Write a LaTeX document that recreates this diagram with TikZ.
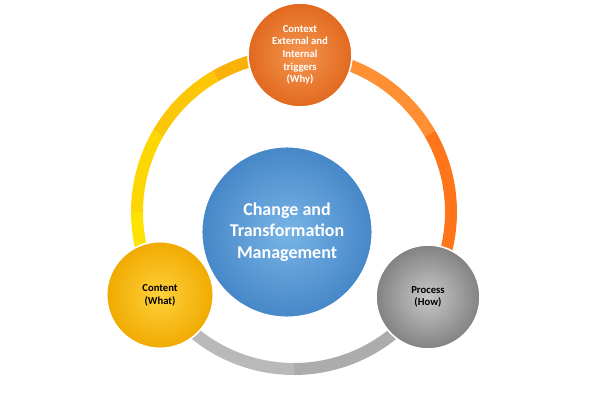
\documentclass[tikz,border=0pt]{standalone}
\usepackage{fontspec}
\usetikzlibrary{calc}
\setmainfont{Carlito}
\begin{document}
\begin{tikzpicture}[x=0.75pt,y=-0.75pt,
  ball/.style={circle,draw=white,line width=1.2pt,align=center,font=\bfseries,inner sep=0pt}]
\useasboundingbox (0,0) rectangle (600,400);
\coordinate (c) at (294,212);
% ring
\foreach \a/\b/\col in {-88/-120/yellow!40!orange,-120/-150/yellow!60!orange,-150/-180/yellow!75!orange,-180/-215/yellow!85!orange}
  \draw[line width=9pt,\col] ($(c)+(\a:157)$) arc[start angle=\a,end angle=\b,radius=157];
\foreach \a/\b/\col in {-210/-270/gray!55,-270/-332/gray!65}
  \draw[line width=9pt,\col] ($(c)+(\a:157)$) arc[start angle=\a,end angle=\b,radius=157];
\foreach \a/\b/\col in {34/-30/orange!80!red!90!white,-30/-90/orange!90!red!80!white}
  \draw[line width=9pt,\col] ($(c)+(\a:157)$) arc[start angle=\a,end angle=\b,radius=157];
% center
\node[ball,minimum size=128pt,inner color={rgb,255:red,120;green,180;blue,230},outer color={rgb,255:red,70;green,135;blue,200},text=white,font=\bfseries\fontsize{13.5}{16}\selectfont] (m) at (287,232) {Change and\\Transformation\\Management};
\node[ball,minimum size=78pt,inner color={rgb,255:red,245;green,150;blue,80},outer color={rgb,255:red,225;green,105;blue,30},text=white,font=\bfseries\fontsize{8}{9.5}\selectfont] (t) at (300,55) {Context\\External and\\Internal\\triggers\\(Why)};
\node[ball,minimum size=80pt,inner color={rgb,255:red,255;green,210;blue,60},outer color={rgb,255:red,240;green,170;blue,0},text=black,font=\bfseries\fontsize{8}{9.5}\selectfont] (l) at (160,295) {Content\\(What)};
\node[ball,minimum size=78pt,inner color={rgb,255:red,200;green,200;blue,200},outer color={rgb,255:red,130;green,130;blue,130},text=black,font=\bfseries\fontsize{8}{9.5}\selectfont] (r) at (428,297) {Process\\(How)};
\end{tikzpicture}
\end{document}
